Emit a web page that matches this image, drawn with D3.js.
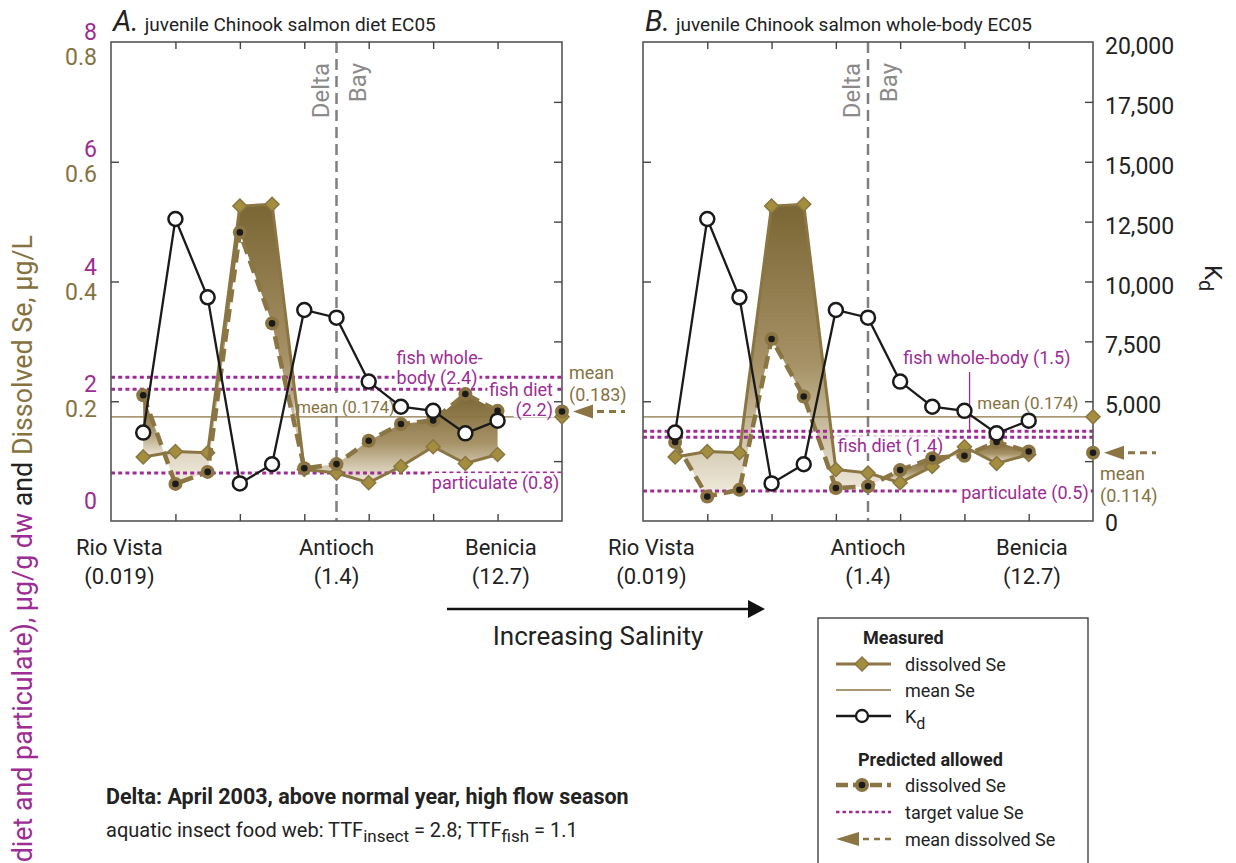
<!DOCTYPE html>
<html>
<head>
<meta charset="utf-8">
<script src="https://cdn.jsdelivr.net/npm/d3@7"></script>
<style>
  body { margin: 0; background: #fff; }
  svg text { font-family: "Liberation Sans Narrow", "Arial Narrow", "Roboto", sans-serif; }
</style>
</head>
<body>
<script>
// sample positions along the estuary (0 = Rio Vista side, 7 = right edge)
const samplePos = [0.5, 1, 1.5, 2, 2.5, 3, 3.5, 4, 4.5, 5, 5.5, 6];
// measured dissolved Se, ug/L
const dissolvedSe = [0.107, 0.116, 0.114, 0.526, 0.529, 0.086, 0.080, 0.064, 0.091, 0.124, 0.096, 0.111];
// measured Kd
const kdValues = [3690, 12610, 9340, 1570, 2370, 8810, 8490, 5820, 4770, 4600, 3660, 4190];
// predicted allowed dissolved Se, ug/L
const predictedDiet = [0.210, 0.062, 0.082, 0.482, 0.330, 0.088, 0.095, 0.134, 0.162, 0.168, 0.212, 0.184];
const predictedWhole = [0.132, 0.041, 0.052, 0.304, 0.208, 0.055, 0.058, 0.085, 0.105, 0.109, 0.132, 0.116];
const meanSe = 0.174;
const predictedMeans = [0.183, 0.114];
// target values, ug/g dw: fish whole-body, fish diet, particulate
const targetsDiet = [2.4, 2.2, 0.8];
const targetsWhole = [1.5, 1.4, 0.5];

const siteNames = ["Rio Vista", "Antioch", "Benicia"];
const siteSalinity = ["(0.019)", "(1.4)", "(12.7)"];
const sitePos = [0.13, 3.5, 6.05];
const partTicks = [0, 2, 4, 6, 8];
const seTicks = [0.2, 0.4, 0.6, 0.8];
const kdTicks = [0, 2500, 5000, 7500, 10000, 12500, 15000, 17500, 20000];

const W = 1236, H = 863, plotTop = 42, plotBot = 521;
const olive = "#8a7543", oliveText = "#86723f", purple = "#9c2d94", diamondFill = "#a28e3c";

const svg = d3.select("body").append("svg").attr("width", W).attr("height", H);

const grad = svg.append("defs").append("linearGradient")
  .attr("id", "fillGrad").attr("x1", 0).attr("y1", 0).attr("x2", 0).attr("y2", 1);
grad.append("stop").attr("offset", "0%").attr("stop-color", "#7a6534");
grad.append("stop").attr("offset", "55%").attr("stop-color", "#a69266");
grad.append("stop").attr("offset", "100%").attr("stop-color", "#f1ecdf");

const ySe = d3.scaleLinear().domain([0, 0.8]).range([plotBot, plotTop]);
const yPart = d3.scaleLinear().domain([0, 8]).range([plotBot, plotTop]);
const yKd = d3.scaleLinear().domain([0, 20000]).range([plotBot, plotTop]);

// split the band between two series into pieces where they cross
function splitSegments(xs, a, b) {
  const polys = [];
  let up = [[xs[0], a[0]]], down = [[xs[0], b[0]]];
  for (let i = 0; i < xs.length - 1; i++) {
    const d0 = a[i] - b[i], d1 = a[i + 1] - b[i + 1];
    if (d0 * d1 < 0) {
      const t = d0 / (d0 - d1);
      const c = [xs[i] + t * (xs[i + 1] - xs[i]), a[i] + t * (a[i + 1] - a[i])];
      up.push(c); down.push(c);
      polys.push(up.concat(down.slice().reverse()));
      up = [c]; down = [c];
    }
    up.push([xs[i + 1], a[i + 1]]);
    down.push([xs[i + 1], b[i + 1]]);
  }
  polys.push(up.concat(down.slice().reverse()));
  return polys;
}

function diamond(sel, cx, cy, r) {
  sel.append("path")
    .attr("d", `M${cx},${cy - r}L${cx + r},${cy}L${cx},${cy + r}L${cx - r},${cy}Z`)
    .attr("fill", diamondFill).attr("stroke", olive).attr("stroke-width", 1.5);
}
function predDot(sel, cx, cy) {
  sel.append("circle").attr("cx", cx).attr("cy", cy).attr("r", 7).attr("fill", olive);
  sel.append("circle").attr("cx", cx).attr("cy", cy).attr("r", 3.3).attr("fill", "#1a1a1a");
}

const panels = [
  { key: "A.", title: "juvenile Chinook salmon diet EC05", x0: 111, x1: 562, pred: predictedDiet, targets: targetsDiet, mean: predictedMeans[0] },
  { key: "B.", title: "juvenile Chinook salmon whole-body EC05", x0: 643, x1: 1093, pred: predictedWhole, targets: targetsWhole, mean: predictedMeans[1] }
];

panels.forEach((p, pi) => {
  const x = d3.scaleLinear().domain([0, 7]).range([p.x0, p.x1]);
  const g = svg.append("g");

  // title
  const tt = g.append("text").attr("x", p.x0 + 2).attr("y", 31).attr("fill", "#222");
  tt.append("tspan").attr("font-size", 29).attr("font-style", "italic").text(p.key);
  tt.append("tspan").attr("font-size", 19).attr("dx", 6).text(p.title);

  // Delta / Bay divider
  g.append("line").attr("x1", x(3.5)).attr("x2", x(3.5)).attr("y1", plotTop).attr("y2", plotBot)
    .attr("stroke", "#808080").attr("stroke-width", 2.5).attr("stroke-dasharray", "11,6");
  g.append("text").attr("transform", `translate(${x(3.5) - 8},63) rotate(-90)`)
    .attr("text-anchor", "end").attr("font-size", 24).attr("fill", "#8a8a8a").text("Delta");
  g.append("text").attr("transform", `translate(${x(3.5) + 29},63) rotate(-90)`)
    .attr("text-anchor", "end").attr("font-size", 24).attr("fill", "#8a8a8a").text("Bay");

  // shaded band between measured and predicted
  splitSegments(samplePos, dissolvedSe, p.pred).forEach(poly => {
    g.append("path")
      .attr("d", d3.line().x(d => x(d[0])).y(d => ySe(d[1]))(poly) + "Z")
      .attr("fill", "url(#fillGrad)");
  });

  // mean Se line
  g.append("line").attr("x1", p.x0).attr("x2", p.x1).attr("y1", ySe(meanSe)).attr("y2", ySe(meanSe))
    .attr("stroke", olive).attr("stroke-width", 1.3);

  // target lines
  p.targets.forEach(v => {
    g.append("line").attr("x1", p.x0).attr("x2", p.x1).attr("y1", yPart(v)).attr("y2", yPart(v))
      .attr("stroke", purple).attr("stroke-width", 3).attr("stroke-dasharray", "4,3.2");
  });

  // target and mean labels, on a white patch that hides the lines behind
  const lab = (txt, xx, yy, col, anchor, size) => {
    const t = g.append("text").attr("x", xx).attr("y", yy)
      .attr("font-size", size || 18).attr("fill", col).attr("text-anchor", anchor || "start").text(txt);
    const bb = t.node().getBBox();
    g.insert("rect", () => t.node()).attr("x", bb.x - 2).attr("y", bb.y + 1)
      .attr("width", bb.width + 4).attr("height", bb.height - 5).attr("fill", "#fff");
    return t;
  };
  if (pi === 0) {
    lab("fish whole-", x(5.1), yPart(p.targets[0]) - 13, purple, "middle");
    lab("body (2.4)", x(5.06), yPart(p.targets[0]) + 7, purple, "middle");
    lab("fish diet", x(6.86), yPart(p.targets[1]) + 7, purple, "end");
    lab("(2.2)", x(6.86), yPart(p.targets[1]) + 27, purple, "end");
    lab("mean (0.174)", x(2.88), ySe(meanSe) - 4, oliveText, "start", 16.5);
    lab("particulate (0.8)", x(4.98), yPart(p.targets[2]) + 16, purple);
  } else {
    lab("fish whole-body (1.5)", x(4.05), 364, purple);
    g.append("line").attr("x1", x(5.08)).attr("x2", x(5.08)).attr("y1", 372).attr("y2", yPart(p.targets[0]))
      .attr("stroke", purple).attr("stroke-width", 1.3);
    lab("mean (0.174)", x(5.2), ySe(meanSe) - 8, oliveText, "start", 17);
    lab("fish diet (1.4)", x(3.03), yPart(p.targets[1]) + 15, purple);
    lab("particulate (0.5)", x(4.95), yPart(p.targets[2]) + 8, purple);
  }

  // measured dissolved Se
  g.append("path").datum(dissolvedSe)
    .attr("d", d3.line().x((d, i) => x(samplePos[i])).y(d => ySe(d)))
    .attr("fill", "none").attr("stroke", olive).attr("stroke-width", 3);
  dissolvedSe.forEach((d, i) => diamond(g, x(samplePos[i]), ySe(d), 7));

  // predicted allowed dissolved Se
  g.append("path").datum(p.pred)
    .attr("d", d3.line().x((d, i) => x(samplePos[i])).y(d => ySe(d)))
    .attr("fill", "none").attr("stroke", olive).attr("stroke-width", 4.5).attr("stroke-dasharray", "13,7");
  p.pred.forEach((d, i) => predDot(g, x(samplePos[i]), ySe(d)));

  // Kd
  g.append("path").datum(kdValues)
    .attr("d", d3.line().x((d, i) => x(samplePos[i])).y(d => yKd(d)))
    .attr("fill", "none").attr("stroke", "#1a1a1a").attr("stroke-width", 2.3);
  g.selectAll("circle.kd").data(kdValues).enter().append("circle").attr("class", "kd")
    .attr("cx", (d, i) => x(samplePos[i])).attr("cy", d => yKd(d)).attr("r", 7)
    .attr("fill", "#fff").attr("stroke", "#1a1a1a").attr("stroke-width", 2.5);

  // frame and ticks
  g.append("rect").attr("x", p.x0).attr("y", plotTop).attr("width", p.x1 - p.x0).attr("height", plotBot - plotTop)
    .attr("fill", "none").attr("stroke", "#555").attr("stroke-width", 1.6);
  const tickStyle = s => { s.select(".domain").remove(); s.selectAll("line").attr("stroke", "#444").attr("stroke-width", 1.4); };
  g.append("g").attr("transform", `translate(0,${plotTop})`)
    .call(d3.axisTop(x).tickValues([1, 2, 3, 4, 5, 6]).tickSize(-7).tickFormat("")).call(tickStyle);
  g.append("g").attr("transform", `translate(0,${plotBot})`)
    .call(d3.axisBottom(x).tickValues([1, 2, 3, 4, 5, 6]).tickSize(-7).tickFormat("")).call(tickStyle);
  g.append("g").attr("transform", `translate(${p.x0},0)`)
    .call(d3.axisLeft(yPart).tickValues([2, 4, 6]).tickSize(-8).tickFormat("")).call(tickStyle);
  g.append("g").attr("transform", `translate(${p.x1},0)`)
    .call(d3.axisRight(yKd).tickValues(kdTicks.slice(1, -1)).tickSize(-8).tickFormat("")).call(tickStyle);

  // site labels
  siteNames.forEach((s, i) => {
    g.append("text").attr("x", x(sitePos[i])).attr("y", 555).attr("text-anchor", "middle")
      .attr("font-size", 22).attr("fill", "#222").text(s);
    g.append("text").attr("x", x(sitePos[i])).attr("y", 584).attr("text-anchor", "middle")
      .attr("font-size", 22).attr("fill", "#222").text(siteSalinity[i]);
  });

  // mean markers on the right edge
  const ym = ySe(p.mean);
  g.append("path").attr("d", `M${p.x1 + 11},${ym}L${p.x1 + 31},${ym - 7}L${p.x1 + 31},${ym + 7}Z`).attr("fill", olive);
  g.append("line").attr("x1", p.x1 + 35).attr("x2", p.x1 + 63).attr("y1", ym).attr("y2", ym)
    .attr("stroke", olive).attr("stroke-width", 3).attr("stroke-dasharray", "7,5");
  diamond(g, p.x1, ySe(meanSe), 7);
  predDot(g, p.x1, ym);
  const mt = pi === 0 ? [ym - 32, ym - 10] : [ym + 27, ym + 49];
  g.append("text").attr("x", p.x1 + 7).attr("y", mt[0]).attr("font-size", 18).attr("fill", oliveText).text("mean");
  g.append("text").attr("x", p.x1 + 7).attr("y", mt[1]).attr("font-size", 18).attr("fill", oliveText)
    .text("(" + p.mean.toFixed(3) + ")");
});

// left axis labels (particulate purple, dissolved olive)
const labelY = d3.scaleLinear().domain([0, 8]).range([509, 40]);
partTicks.forEach(v => {
  svg.append("text").attr("x", 97).attr("y", labelY(v)).attr("text-anchor", "end")
    .attr("font-size", 23).attr("fill", purple).text(v);
});
seTicks.forEach(v => {
  svg.append("text").attr("x", 97).attr("y", labelY(v * 10) + 25).attr("text-anchor", "end")
    .attr("font-size", 23).attr("fill", oliveText).text(v.toFixed(1));
});

// right axis labels (Kd); 2,500 is left out in the original to make room for the mean note
kdTicks.filter(v => v !== 2500).forEach(v => {
  svg.append("text").attr("x", 1105).attr("y", yKd(v) + 12 - (v === 0 ? 2 : 0))
    .attr("font-size", 23).attr("fill", "#222").text(d3.format(",")(v));
});
const kdT = svg.append("text").attr("transform", "translate(1205,265) rotate(90)")
  .attr("font-size", 24).attr("fill", "#222");
kdT.append("tspan").text("K");
kdT.append("tspan").attr("dy", 6).attr("font-size", 20).text("d");

// left axis title (its start runs off the bottom of the figure in the original)
const yt = svg.append("text").attr("transform", "translate(32,235) rotate(-90)")
  .attr("text-anchor", "end").attr("font-size", 26.8);
yt.append("tspan").attr("fill", purple).text("diet and particulate), µg/g dw ");
yt.append("tspan").attr("fill", "#222").text("and ");
yt.append("tspan").attr("fill", oliveText).text("Dissolved Se, µg/L");

// salinity arrow
svg.append("line").attr("x1", 447).attr("x2", 752).attr("y1", 609).attr("y2", 609)
  .attr("stroke", "#111").attr("stroke-width", 2.5);
svg.append("path").attr("d", "M765,609L748,600L748,618Z").attr("fill", "#111");
svg.append("text").attr("x", 598).attr("y", 645).attr("text-anchor", "middle")
  .attr("font-size", 26).attr("fill", "#222").text("Increasing Salinity");

// legend
const lg = svg.append("g");
lg.append("rect").attr("x", 818).attr("y", 618).attr("width", 270).attr("height", 270)
  .attr("fill", "#fff").attr("stroke", "#333").attr("stroke-width", 1.3);
const legText = (txt, yy) => lg.append("text").attr("x", 905).attr("y", yy + 7).attr("font-size", 18).attr("fill", "#222").text(txt);
lg.append("text").attr("x", 863).attr("y", 644).attr("font-size", 18).attr("font-weight", "bold").attr("fill", "#222").text("Measured");
lg.append("line").attr("x1", 836).attr("x2", 891).attr("y1", 664).attr("y2", 664).attr("stroke", olive).attr("stroke-width", 3);
diamond(lg, 862, 664, 7);
legText("dissolved Se", 664);
lg.append("line").attr("x1", 836).attr("x2", 891).attr("y1", 690).attr("y2", 690).attr("stroke", olive).attr("stroke-width", 1.3);
legText("mean Se", 690);
lg.append("line").attr("x1", 836).attr("x2", 891).attr("y1", 716).attr("y2", 716).attr("stroke", "#1a1a1a").attr("stroke-width", 2.3);
lg.append("circle").attr("cx", 862).attr("cy", 716).attr("r", 6).attr("fill", "#fff").attr("stroke", "#1a1a1a").attr("stroke-width", 2.3);
const kdl = legText("K", 716);
kdl.append("tspan").attr("dy", 6).attr("font-size", 16).text("d");
lg.append("text").attr("x", 858).attr("y", 766).attr("font-size", 18).attr("font-weight", "bold").attr("fill", "#222").text("Predicted allowed");
lg.append("line").attr("x1", 836).attr("x2", 891).attr("y1", 785).attr("y2", 785).attr("stroke", olive).attr("stroke-width", 4.5).attr("stroke-dasharray", "12,5");
predDot(lg, 862, 785);
legText("dissolved Se", 785);
lg.append("line").attr("x1", 836).attr("x2", 891).attr("y1", 812).attr("y2", 812).attr("stroke", purple).attr("stroke-width", 2.5).attr("stroke-dasharray", "3.5,3");
legText("target value Se", 812);
lg.append("path").attr("d", "M836,839L859,832L859,846Z").attr("fill", olive);
lg.append("line").attr("x1", 863).attr("x2", 891).attr("y1", 839).attr("y2", 839).attr("stroke", olive).attr("stroke-width", 2.5).attr("stroke-dasharray", "6,5");
legText("mean dissolved Se", 839);

// notes
svg.append("text").attr("x", 106).attr("y", 804).attr("font-size", 21.5).attr("font-weight", "bold").attr("fill", "#222")
  .text("Delta: April 2003, above normal year, high flow season");
const note = svg.append("text").attr("x", 106).attr("y", 837).attr("font-size", 20).attr("fill", "#222");
note.append("tspan").text("aquatic insect food web: TTF");
note.append("tspan").attr("dy", 5).attr("font-size", 17).text("insect");
note.append("tspan").attr("dy", -5).text(" = 2.8; TTF");
note.append("tspan").attr("dy", 5).attr("font-size", 17).text("fish");
note.append("tspan").attr("dy", -5).text(" = 1.1");
</script>
</body>
</html>
